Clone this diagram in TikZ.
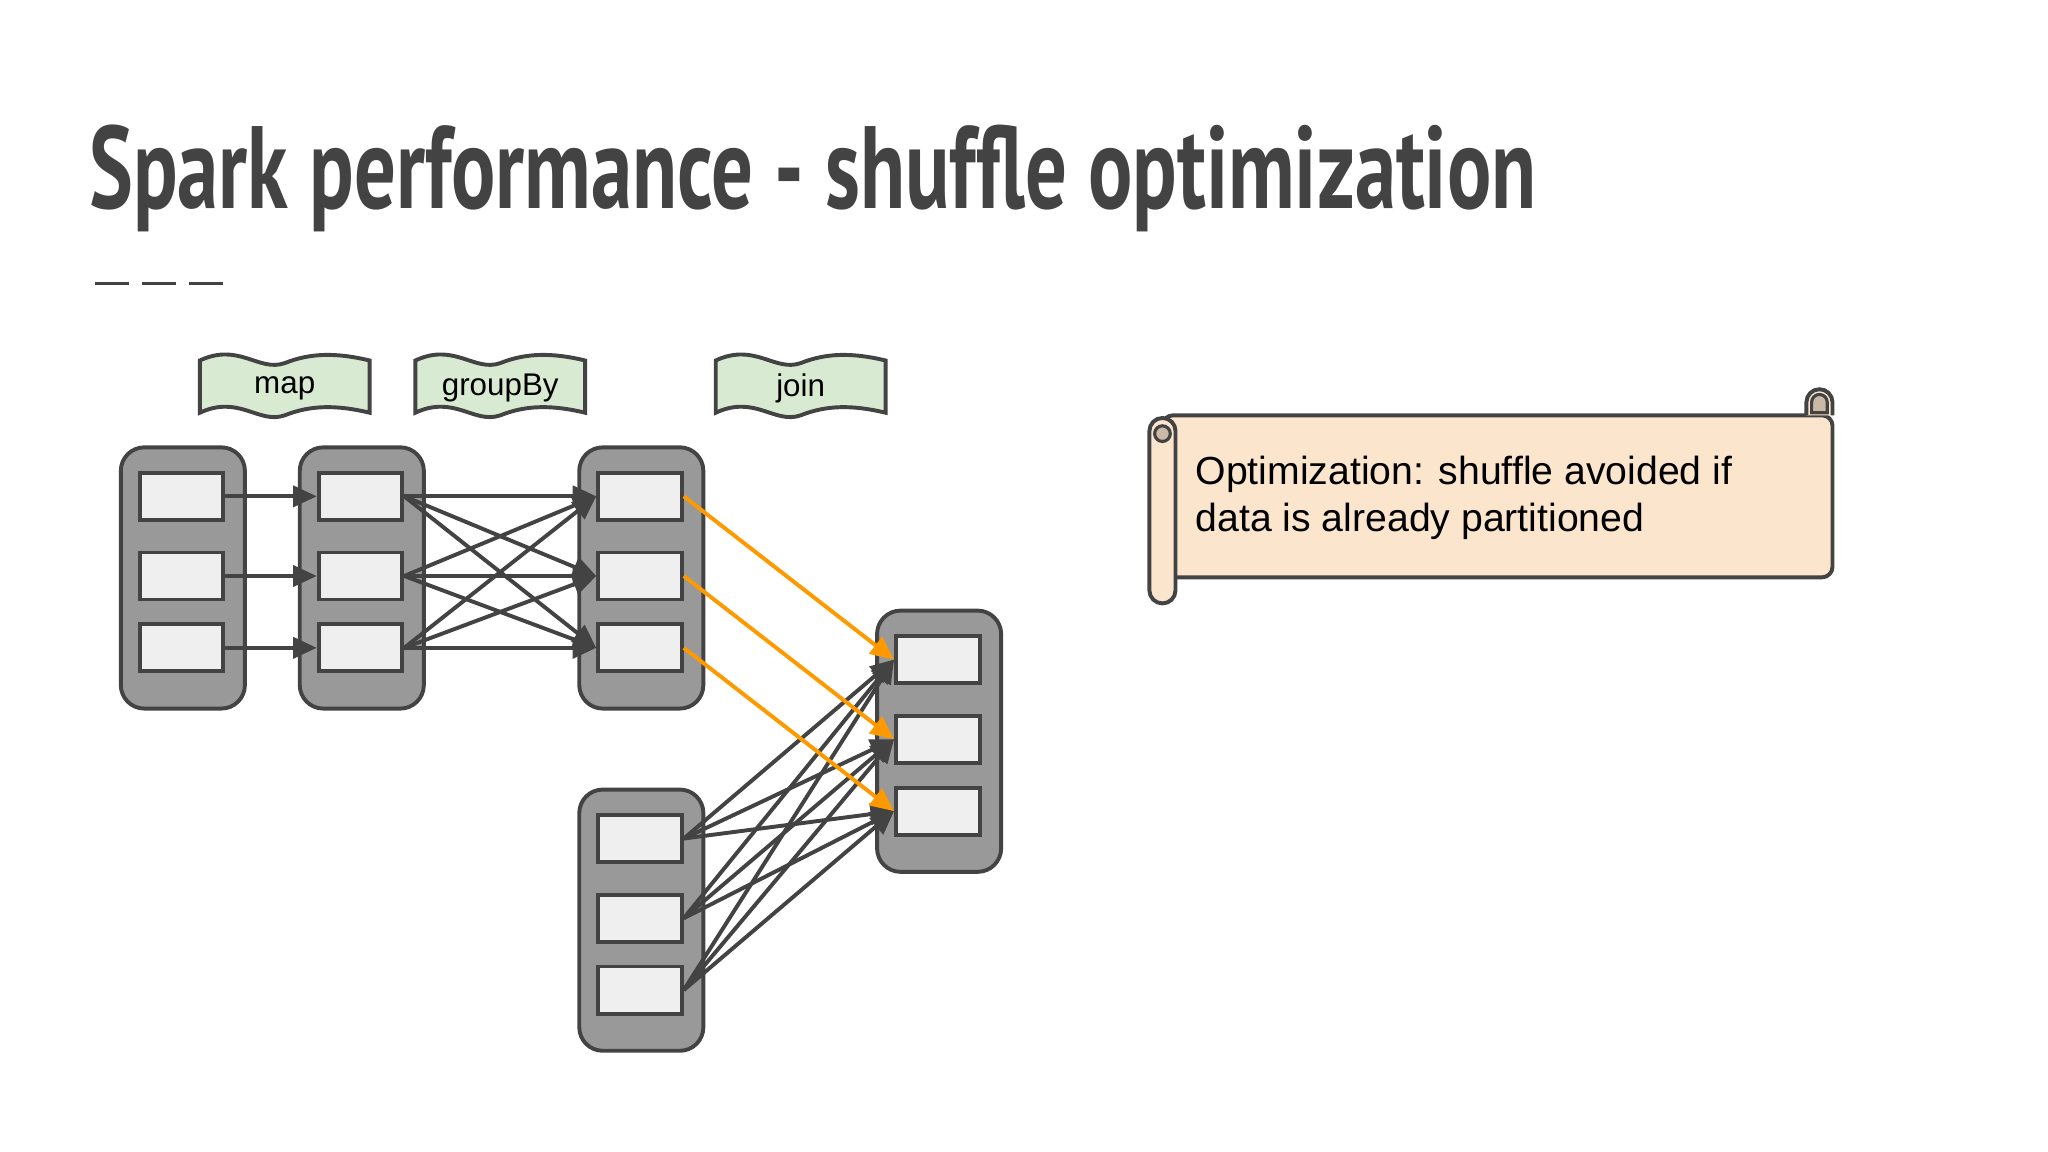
\documentclass[tikz,border=0pt]{standalone}
\usepackage{fontspec}
\setmainfont{Liberation Sans}
\newfontfamily\titlefont{PT Sans}
\usetikzlibrary{arrows.meta}
\definecolor{dk}{HTML}{434343}
\definecolor{grp}{HTML}{999999}
\definecolor{cell}{HTML}{EFEFEF}
\definecolor{lab}{HTML}{D9EAD3}
\definecolor{scr}{HTML}{FCE5CD}
\definecolor{curl}{HTML}{C9B9A6}
\definecolor{org}{HTML}{FF9900}
\begin{document}
\begin{tikzpicture}[x=0.5pt,y=-0.5pt,
  grpbox/.style={draw=dk,line width=1.5pt,fill=grp,rounded corners=9pt,minimum width=47.5pt,minimum height=100pt,inner sep=0},
  cellbox/.style={draw=dk,line width=1.5pt,fill=cell,minimum width=32pt,minimum height=18pt,inner sep=0},
  ar/.style={draw=dk,line width=1.5pt,-{Triangle[length=9pt,width=8pt]}},
  oar/.style={draw=org,line width=1.5pt,-{Triangle[length=9pt,width=8pt]}},
  lbl/.style={font=\fontsize{12}{14}\selectfont,text=black}]
\useasboundingbox (0,0) rectangle (1568,882);
% title
\node[anchor=base west,inner sep=0,text=dk] (title) at (68,160) {\resizebox{554pt}{32pt}{\titlefont\bfseries\fontsize{40}{44}\selectfont Spark performance - shuffle optimization}};
\foreach \a in {73,109,145} \draw[dk,line width=1.2pt] (\a,217) -- (\a+26,217);
% banners
\foreach \nm/\x/\t in {lm/153/map,lg/318/groupBy,lj/548/join}{
  \path[draw=dk,line width=1.5pt,fill=lab]
    (\x,276) .. controls (\x+30,262) and (\x+45,285) .. (\x+65,278)
    .. controls (\x+85,270) and (\x+105,270) .. (\x+130,276)
    -- (\x+130,316) .. controls (\x+105,310) and (\x+85,310) .. (\x+65,318)
    .. controls (\x+45,325) and (\x+30,302) .. (\x,316) -- cycle;
  \node[lbl] (\nm) at (\x+65,297) {\t};
}
% groups
\foreach \g/\x/\y in {A/91/341,B/228/341,C/442/341,D/670/466,E/442/603}{
  \node[grpbox,anchor=north west] (\g) at (\x,\y) {};
  \node[cellbox] (\g1) at (\x+48,\y+39) {};
  \node[cellbox] (\g2) at (\x+48,\y+100) {};
  \node[cellbox] (\g3) at (\x+48,\y+155) {};
}
\foreach \i in {1,2,3} \draw[ar] (A\i.east) -- (B\i.west);
\foreach \i in {1,2,3} \foreach \j in {1,2,3} \draw[ar] (B\i.east) -- (C\j.west);
\foreach \i in {1,2,3} \foreach \j in {1,2,3} \draw[ar] (E\i.east) -- (D\j.west);
\foreach \i in {1,2,3} \draw[oar] (C\i.east) -- (D\i.west);
% scroll
\path[draw=dk,line width=1.5pt,fill=scr,rounded corners=4pt] (890,318) rectangle (1403,442);
\path[draw=dk,line width=1.5pt,fill=scr] (1383,318) -- (1383,308) arc[start angle=180,end angle=360,radius=10] -- (1403,318);
\path[draw=dk,line width=1.2pt,fill=curl] (1387,316) -- (1387,308) arc[start angle=180,end angle=360,radius=6] -- (1399,316) -- cycle;
\path[draw=dk,line width=1.5pt,fill=scr] (880,330) arc[start angle=180,end angle=360,radius=10] -- (900,452) arc[start angle=0,end angle=180,radius=10] -- cycle;
\path[draw=dk,line width=1.2pt,fill=curl] (890,332) circle[radius=6];
\node[anchor=west,align=left,inner sep=0,font=\fontsize{15}{18}\selectfont] (note) at (915,381) {Optimization: shuffle avoided if\\data is already partitioned};
\end{tikzpicture}
\end{document}
